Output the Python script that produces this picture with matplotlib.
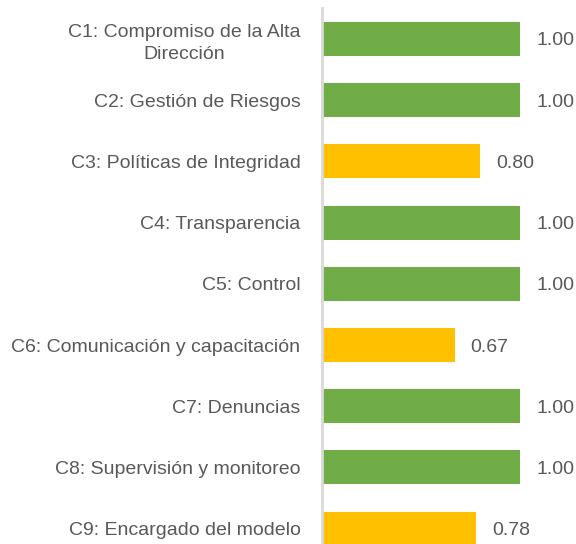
import matplotlib
matplotlib.use("Agg")
import matplotlib.pyplot as plt

# Data
categories = [
    "C1: Compromiso de la Alta\nDirección",
    "C2: Gestión de Riesgos",
    "C3: Políticas de Integridad",
    "C4: Transparencia",
    "C5: Control",
    "C6: Comunicación y capacitación",
    "C7: Denuncias",
    "C8: Supervisión y monitoreo",
    "C9: Encargado del modelo",
]
values = [1.00, 1.00, 0.80, 1.00, 1.00, 0.67, 1.00, 1.00, 0.78]

green = "#70AD47"
yellow = "#FFC000"
colors = [green if v >= 1.0 else yellow for v in values]

plt.rcParams['font.family'] = ['Liberation Sans', 'DejaVu Sans']

fig = plt.figure(figsize=(5.76, 5.44), dpi=100)
ax = fig.add_axes([322 / 576, -0.028, 1 - 322 / 576, 1.0126])

y = list(range(len(categories)))
ax.barh(y, values, height=0.556, color=colors)
ax.set_ylim(len(categories) - 0.5, -0.5)
ax.set_xlim(0, 254 / 198)

for yi, v in zip(y, values):
    ax.text(v + 0.081, yi, f"{v:.2f}", va="center_baseline", ha="left",
            fontsize=14, color="#595959")

ax.set_yticks(y)
ax.set_yticklabels(categories, fontsize=14, color="#595959",
                   multialignment="center", linespacing=1.35)
for lbl in ax.get_yticklabels():
    lbl.set_va("center_baseline")
ax.tick_params(axis="y", length=0, pad=15.5)
ax.set_xticks([])

for side in ["top", "right", "bottom"]:
    ax.spines[side].set_visible(False)
ax.spines["left"].set_color("#D9D9D9")
ax.spines["left"].set_linewidth(2)
ax.patch.set_visible(False)

fig.savefig("out.png", dpi=100)
